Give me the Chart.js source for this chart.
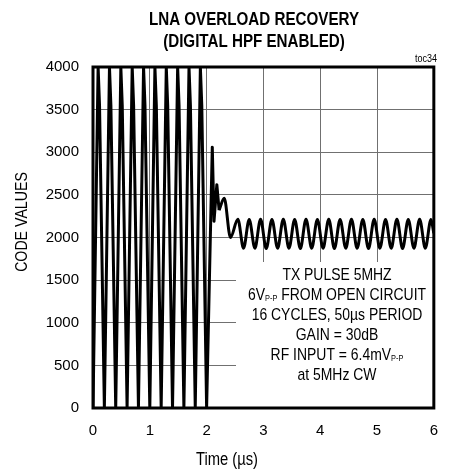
<!DOCTYPE html>
<html>
<head>
<meta charset="utf-8">
<script src="https://cdn.jsdelivr.net/npm/chart.js@4.4.1/dist/chart.umd.min.js"></script>
<style>
  html, body { margin: 0; padding: 0; background: #fff; }
</style>
</head>
<body>
<canvas id="chart" width="452" height="472"></canvas>
<script>
const FONT = '"Liberation Sans", Arial, sans-serif';
const NARROW = 0.82; // horizontal squeeze for the narrow lettering

const titleLines = ['LNA OVERLOAD RECOVERY', '(DIGITAL HPF ENABLED)'];
const figureTag = 'toc34';
const xAxisTitle = 'Time (µs)';
const yAxisTitle = 'CODE VALUES';

const xTicks = [0, 1, 2, 3, 4, 5, 6];
const yTicks = [0, 500, 1000, 1500, 2000, 2500, 3000, 3500, 4000];

// saturated burst and the first recovery transient (straight sample-to-sample segments)
const burstTimeUs = [
  0.00, 0.09, 0.115, 0.20, 0.29, 0.315, 0.40, 0.49, 0.515, 0.60,
  0.69, 0.715, 0.80, 0.89, 0.915, 1.00, 1.09, 1.115, 1.20, 1.29,
  1.315, 1.40, 1.49, 1.515, 1.60, 1.69, 1.715, 1.80, 1.89, 1.915, 2.00,
  2.10, 2.13, 2.18, 2.22
];
const burstCode = [
  0, 4000, 3550, 0, 4000, 3550, 0, 4000, 3550, 0,
  4000, 3550, 0, 4000, 3550, 0, 4000, 3550, 0, 4000,
  3550, 0, 4000, 3550, 0, 4000, 3550, 0, 4000, 3550, 0,
  3060, 2190, 2620, 2320
];

// settling ringing, then the 5MHz CW input tone
const toneTimeUs = [
  2.22, 2.31, 2.42,
  2.55, 2.65, 2.75, 2.85, 2.95, 3.05, 3.15, 3.25, 3.35, 3.45,
  3.55, 3.65, 3.75, 3.85, 3.95, 4.05, 4.15, 4.25, 4.35, 4.45,
  4.55, 4.65, 4.75, 4.85, 4.95, 5.05, 5.15, 5.25, 5.35, 5.45,
  5.55, 5.65, 5.75, 5.85, 5.95, 6.00
];
const toneCode = [
  2320, 2460, 2000,
  2215, 1875, 2210, 1875, 2215, 1870, 2210, 1875, 2215, 1875,
  2210, 1870, 2215, 1875, 2210, 1875, 2215, 1870, 2210, 1875,
  2215, 1875, 2210, 1870, 2215, 1875, 2210, 1875, 2215, 1870,
  2210, 1875, 2215, 1875, 2210, 2050
];

// test conditions printed in the lower-right panel
const noteLines = [
  [{ text: 'TX PULSE 5MHZ' }],
  [{ text: '6V' }, { text: 'P-P', sub: true }, { text: ' FROM OPEN CIRCUIT' }],
  [{ text: '16 CYCLES, 50µs PERIOD' }],
  [{ text: 'GAIN = 30dB' }],
  [{ text: 'RF INPUT = 6.4mV' }, { text: 'P-P', sub: true }],
  [{ text: 'at 5MHz CW' }]
];

const toPoints = (ts, vs) => ts.map((t, i) => ({ x: t, y: vs[i] }));

// draw text squeezed horizontally around its anchor point
function narrowText(ctx, text, x, y, align, rotate) {
  ctx.save();
  ctx.translate(x, y);
  if (rotate) ctx.rotate(rotate);
  ctx.scale(NARROW, 1);
  ctx.textAlign = align;
  ctx.fillText(text, 0, 0);
  ctx.restore();
}

const decor = {
  id: 'decor',
  beforeDatasetsDraw(chart) {
    const { ctx, chartArea: a } = chart;
    ctx.save();
    ctx.fillStyle = '#fff';
    ctx.fillRect(236, 262, a.right - 236, a.bottom - 262);
    ctx.restore();
  },
  afterDatasetsDraw(chart) {
    const { ctx, chartArea: a } = chart;
    ctx.save();
    ctx.strokeStyle = '#000';
    ctx.lineWidth = 3;
    ctx.strokeRect(a.left, a.top, a.right - a.left, a.bottom - a.top);
    ctx.restore();
  },
  afterDraw(chart) {
    const { ctx } = chart;
    ctx.save();
    ctx.fillStyle = '#000';
    ctx.textBaseline = 'middle';

    ctx.font = 'bold 18.5px ' + FONT;
    narrowText(ctx, titleLines[0], 254, 20, 'center');
    narrowText(ctx, titleLines[1], 254, 42, 'center');

    ctx.font = '11px ' + FONT;
    narrowText(ctx, figureTag, 437, 59, 'right');

    ctx.font = '18px ' + FONT;
    narrowText(ctx, xAxisTitle, 227, 460, 'center');

    ctx.font = '17.3px ' + FONT;
    narrowText(ctx, yAxisTitle, 22, 222, 'center', -Math.PI / 2);

    // note panel text with P-P subscripts
    const cx = 337;
    const mainFont = '17px ' + FONT;
    const subFont = '9px ' + FONT;
    noteLines.forEach((segs, i) => {
      const yLine = 275 + i * 20;
      let w = 0;
      segs.forEach(s => { ctx.font = s.sub ? subFont : mainFont; w += ctx.measureText(s.text).width * NARROW; });
      let xPos = cx - w / 2;
      segs.forEach(s => {
        ctx.font = s.sub ? subFont : mainFont;
        narrowText(ctx, s.text, xPos, s.sub ? yLine + 4 : yLine, 'left');
        xPos += ctx.measureText(s.text).width * NARROW;
      });
    });
    ctx.restore();
  }
};

Chart.defaults.font.family = FONT;
Chart.defaults.font.size = 15;
Chart.defaults.color = '#000';

new Chart(document.getElementById('chart'), {
  type: 'line',
  data: {
    datasets: [{
      data: toPoints(burstTimeUs, burstCode),
      borderColor: '#000',
      borderWidth: 3,
      borderJoinStyle: 'round',
      pointRadius: 0,
      tension: 0,
      fill: false
    }, {
      data: toPoints(toneTimeUs, toneCode),
      borderColor: '#000',
      borderWidth: 3,
      pointRadius: 0,
      cubicInterpolationMode: 'monotone',
      fill: false
    }]
  },
  options: {
    responsive: false,
    animation: false,
    devicePixelRatio: 1,
    layout: { padding: { top: 67, right: 11, left: 0, bottom: 0 } },
    plugins: { legend: { display: false }, tooltip: { enabled: false }, title: { display: false } },
    scales: {
      x: {
        type: 'linear',
        min: xTicks[0],
        max: xTicks[xTicks.length - 1],
        afterBuildTicks: s => { s.ticks = xTicks.map(v => ({ value: v })); },
        afterFit: s => { s.height = 472 - 408; },
        grid: { color: '#707070', lineWidth: 1, drawTicks: false },
        border: { display: false },
        ticks: { padding: 14, maxRotation: 0, callback: v => String(v) }
      },
      y: {
        type: 'linear',
        min: yTicks[0],
        max: yTicks[yTicks.length - 1],
        afterBuildTicks: s => { s.ticks = yTicks.map(v => ({ value: v })); },
        afterFit: s => { s.width = 93; },
        grid: { color: '#707070', lineWidth: 1, drawTicks: false },
        border: { display: false },
        ticks: { padding: 14, callback: v => String(v) }
      }
    }
  },
  plugins: [decor]
});
</script>
</body>
</html>
